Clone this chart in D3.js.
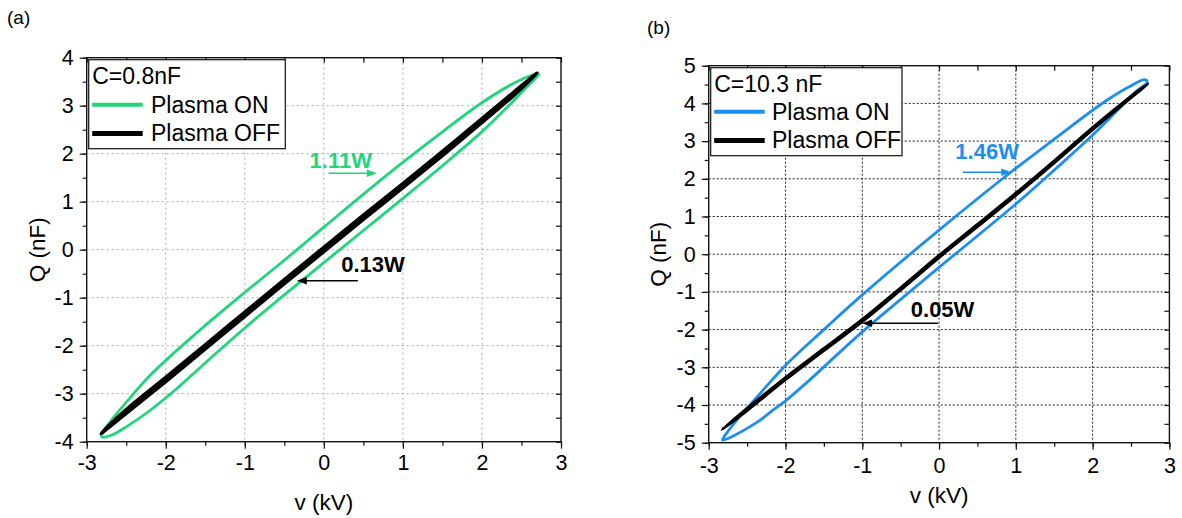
<!DOCTYPE html>
<html>
<head>
<meta charset="utf-8">
<script src="https://cdn.jsdelivr.net/npm/d3@7"></script>
<style>
  html, body { margin: 0; padding: 0; background: #fff; }
  svg { display: block; font-family: "Liberation Sans", Arial, Helvetica, sans-serif; }
</style>
</head>
<body>
<svg id="chart" width="1182" height="518"></svg>
<script>
// Tick values shared by both panels
const vTicks = [-3, -2, -1, 0, 1, 2, 3];
const qTicksA = [-4, -3, -2, -1, 0, 1, 2, 3, 4];
const qTicksB = [-5, -4, -3, -2, -1, 0, 1, 2, 3, 4, 5];

// Panel (a), C = 0.8 nF: charge-voltage loops [v (kV), Q]
const onLoopA = [
  [-2.81, -3.90], [-2.68, -3.86], [-2.50, -3.69], [-2.20, -3.35], [-1.90, -2.95],
  [-1.50, -2.36], [-1.00, -1.63], [-0.50, -0.94], [0.00, -0.27], [0.50, 0.40],
  [1.00, 1.07], [1.50, 1.75], [2.00, 2.46], [2.35, 3.02], [2.57, 3.40], [2.72, 3.66],
  [2.62, 3.63], [2.36, 3.43], [1.98, 3.04], [1.40, 2.33], [0.80, 1.56], [0.00, 0.47],
  [-0.50, -0.22], [-1.06, -0.97], [-1.60, -1.72], [-2.20, -2.62], [-2.49, -3.16], [-2.70, -3.58], [-2.80, -3.82]
];
const offLoopA = [
  [-2.82, -3.83], [-2.50, -3.41], [-2.00, -2.75], [-1.50, -2.07], [-1.00, -1.39],
  [-0.50, -0.71], [0.00, -0.04], [0.50, 0.63], [1.00, 1.29], [1.50, 1.96],
  [2.00, 2.65], [2.40, 3.21], [2.70, 3.68],
  [2.40, 3.28], [2.00, 2.73], [1.50, 2.05], [1.00, 1.38], [0.50, 0.72],
  [0.00, 0.05], [-0.50, -0.62], [-1.00, -1.30], [-1.50, -1.98], [-2.00, -2.66], [-2.50, -3.33]
];

// Panel (b), C = 10.3 nF
const onLoopB = [
  [-2.82, -4.93], [-2.70, -4.84], [-2.50, -4.62], [-2.33, -4.40], [-2.16, -4.13],
  [-2.00, -3.89], [-1.72, -3.40], [-1.00, -2.06], [0.00, -0.35], [1.00, 1.33],
  [1.62, 2.45], [1.97, 3.10], [2.18, 3.52], [2.40, 3.98], [2.57, 4.33], [2.71, 4.56],
  [2.68, 4.63], [2.50, 4.47], [2.16, 4.05], [1.50, 3.05], [0.95, 2.20], [0.00, 0.64],
  [-1.00, -1.08], [-1.50, -2.00], [-2.00, -2.95], [-2.29, -3.60], [-2.55, -4.20], [-2.75, -4.70]
];
const offLoopB = [
  [-2.83, -4.66], [-2.50, -4.15], [-2.00, -3.33], [-1.50, -2.56], [-1.00, -1.79],
  [-0.50, -0.95], [0.00, -0.09], [0.50, 0.73], [1.00, 1.56], [1.50, 2.42],
  [2.00, 3.30], [2.40, 3.98], [2.72, 4.52],
  [2.40, 4.03], [2.00, 3.36], [1.50, 2.48], [1.00, 1.62], [0.50, 0.79],
  [0.00, -0.03], [-0.50, -0.89], [-1.00, -1.73], [-1.50, -2.50], [-2.00, -3.27], [-2.50, -4.09]
];

// Dissipated power labels
const powerLabelsA = ["1.11W", "0.13W"];
const powerLabelsB = ["1.46W", "0.05W"];
const legendTitles = ["C=0.8nF", "C=10.3 nF"];
const seriesNames = ["Plasma ON", "Plasma OFF"];

const GREEN = "#1fd67a";
const BLUE = "#1b8ef2";
const BLACK = "#000";

const svg = d3.select("#chart");
const fmt = d => String(d);   // plain hyphen-minus labels

function drawPanel(cfg) {
  const g = svg.append("g");
  const x = d3.scaleLinear().domain([-3, 3]).range([cfg.left, cfg.right]);
  const y = d3.scaleLinear().domain([cfg.qTicks[0], cfg.qTicks[cfg.qTicks.length - 1]]).range([cfg.bottom, cfg.top]);

  const vMinor = d3.range(-3, 3.001, 0.5);
  const qMinor = d3.range(cfg.qTicks[0], cfg.qTicks[cfg.qTicks.length - 1] + 0.001, 0.5);

  // dotted grid at the inner major ticks
  const grid = g.append("g")
    .attr("stroke", cfg.gridColor)
    .attr("stroke-width", 1)
    .attr("stroke-dasharray", cfg.gridDash);
  grid.selectAll("line.gv").data(vTicks.slice(1, -1)).join("line")
    .attr("x1", d => x(d)).attr("x2", d => x(d))
    .attr("y1", cfg.top).attr("y2", cfg.bottom);
  grid.selectAll("line.gh").data(cfg.qTicks.slice(1, -1)).join("line")
    .attr("x1", cfg.left).attr("x2", cfg.right)
    .attr("y1", d => y(d)).attr("y2", d => y(d));

  // loops
  const line = d3.line()
    .x(d => x(d[0])).y(d => y(d[1]))
    .curve(d3.curveCatmullRomClosed.alpha(0.5));
  g.append("path").datum(cfg.onLoop)
    .attr("d", line).attr("fill", "none")
    .attr("stroke", cfg.color).attr("stroke-width", 2.8)
    .attr("stroke-linejoin", "round");
  g.append("path").datum(cfg.offLoop)
    .attr("d", line).attr("fill", "none")
    .attr("stroke", BLACK).attr("stroke-width", cfg.offWidth)
    .attr("stroke-linejoin", "round");

  // axes: outward ticks left/bottom with labels, inward ticks top/right
  const axisFont = s => s.selectAll("text")
    .attr("font-size", 21.5).attr("fill", "#000")
    .attr("font-family", "'Liberation Sans', Arial, sans-serif");
  const clean = a => a.call(s => s.select(".domain").remove())
    .call(s => s.selectAll(".tick line").attr("stroke", "#111").attr("stroke-width", 1.2));

  g.append("g").attr("transform", `translate(0,${cfg.bottom})`)
    .call(d3.axisBottom(x).tickValues(vMinor).tickSize(4).tickFormat(""))
    .call(clean);
  g.append("g").attr("transform", `translate(0,${cfg.bottom})`)
    .call(d3.axisBottom(x).tickValues(vTicks).tickSize(7).tickPadding(cfg.xPad).tickFormat(fmt))
    .call(clean).call(axisFont);
  g.append("g").attr("transform", `translate(${cfg.left},0)`)
    .call(d3.axisLeft(y).tickValues(qMinor).tickSize(4).tickFormat(""))
    .call(clean);
  g.append("g").attr("transform", `translate(${cfg.left},0)`)
    .call(d3.axisLeft(y).tickValues(cfg.qTicks).tickSize(7).tickPadding(6).tickFormat(fmt))
    .call(clean).call(axisFont);
  g.append("g").attr("transform", `translate(0,${cfg.top})`)
    .call(d3.axisTop(x).tickValues(vMinor).tickSize(-5).tickFormat(""))
    .call(clean);
  g.append("g").attr("transform", `translate(${cfg.right},0)`)
    .call(d3.axisRight(y).tickValues(qMinor).tickSize(-5).tickFormat(""))
    .call(clean);

  // frame
  g.append("rect")
    .attr("x", cfg.left).attr("y", cfg.top)
    .attr("width", cfg.right - cfg.left).attr("height", cfg.bottom - cfg.top)
    .attr("fill", "none").attr("stroke", "#111").attr("stroke-width", 1.4);

  // axis titles
  g.append("text")
    .attr("x", (cfg.left + cfg.right) / 2).attr("y", cfg.xTitleY)
    .attr("text-anchor", "middle").attr("font-size", 22.5).text("v (kV)");
  g.append("text")
    .attr("transform", `translate(${cfg.yTitleX},${(cfg.top + cfg.bottom) / 2}) rotate(-90)`)
    .attr("text-anchor", "middle").attr("font-size", 22.5).text("Q (nF)");

  // panel tag
  g.append("text").attr("x", cfg.tagX).attr("y", cfg.tagY)
    .attr("font-size", 19).text(cfg.tag);

  // legend
  const L = cfg.legend;
  const lg = g.append("g");
  lg.append("rect").attr("x", L.x).attr("y", L.y).attr("width", L.w).attr("height", L.h)
    .attr("fill", "#fff").attr("stroke", "#111").attr("stroke-width", 1.2);
  lg.append("text").attr("x", L.x + 3.5).attr("y", L.y + 24.5)
    .attr("font-size", 23).text(cfg.legendTitle);
  const items = [{ name: seriesNames[0], color: cfg.color, w: 4 }, { name: seriesNames[1], color: BLACK, w: 5 }];
  items.forEach((it, i) => {
    const yy = L.y + L.row0 + i * 28.7;
    lg.append("line").attr("x1", L.x + 3.5).attr("x2", L.x + 54)
      .attr("y1", yy).attr("y2", yy).attr("stroke", it.color).attr("stroke-width", it.w);
    lg.append("text").attr("x", L.x + L.textX).attr("y", yy + 7.8)
      .attr("font-size", 23).text(it.name);
  });

  // power annotations with arrows
  cfg.notes.forEach(n => {
    g.append("text").attr("x", x(n.tx)).attr("y", y(n.ty))
      .attr("font-size", 22).attr("font-weight", "bold").attr("fill", n.color).text(n.label);
    const x0 = x(n.from), x1 = x(n.to), yy = y(n.ay);
    const dir = Math.sign(x1 - x0);
    g.append("line").attr("x1", x0).attr("x2", x1 - dir * 7)
      .attr("y1", yy).attr("y2", yy).attr("stroke", n.color).attr("stroke-width", 1.6);
    g.append("path")
      .attr("d", `M${x1},${yy} L${x1 - dir * 10},${yy - 3.8} L${x1 - dir * 10},${yy + 3.8} Z`)
      .attr("fill", n.color);
  });
}

drawPanel({
  left: 86.7, right: 561, top: 57.7, bottom: 441.7,
  qTicks: qTicksA, onLoop: onLoopA, offLoop: offLoopA,
  color: GREEN, offWidth: 3.4,
  gridColor: "#a8a8a8", gridDash: "2,3",
  xPad: 6, xTitleY: 510, yTitleX: 45,
  tag: "(a)", tagX: 7, tagY: 24,
  legendTitle: legendTitles[0],
  legend: { x: 88.7, y: 59.7, w: 196.6, h: 89, textX: 62.3, row0: 45 },
  notes: [
    { label: powerLabelsA[0], color: GREEN, tx: -0.18, ty: 1.70, from: 0.06, to: 0.67, ay: 1.593 },
    { label: powerLabelsA[1], color: BLACK, tx: 0.22, ty: -0.465, from: 0.43, to: -0.342, ay: -0.647 }
  ]
});

drawPanel({
  left: 708.7, right: 1169.4, top: 65.7, bottom: 442.7,
  qTicks: qTicksB, onLoop: onLoopB, offLoop: offLoopB,
  color: BLUE, offWidth: 2.8,
  gridColor: "#222", gridDash: "2,2",
  xPad: 8, xTitleY: 503, yTitleX: 666,
  tag: "(b)", tagX: 647, tagY: 34,
  legendTitle: legendTitles[1],
  legend: { x: 710.7, y: 67.7, w: 191.3, h: 88, textX: 61.3, row0: 44 },
  notes: [
    { label: powerLabelsB[0], color: BLUE, tx: 0.212, ty: 2.517, from: 0.31, to: 0.941, ay: 2.172 },
    { label: powerLabelsB[1], color: BLACK, tx: -0.368, ty: -1.658, from: -0.013, to: -1.003, ay: -1.833 }
  ]
});
</script>
</body>
</html>
